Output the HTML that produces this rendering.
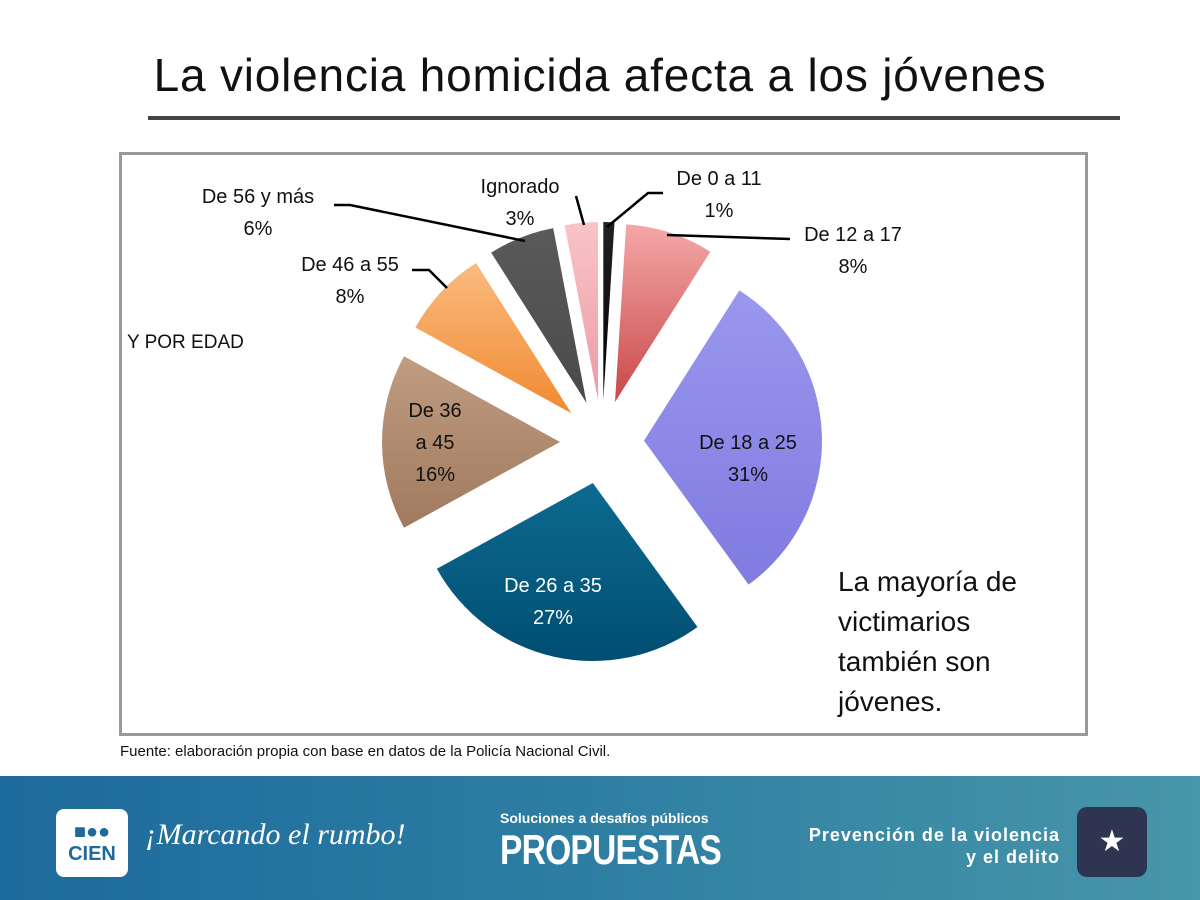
<!DOCTYPE html>
<html><head><meta charset="utf-8"><style>
body{margin:0;width:1200px;height:900px;overflow:hidden;background:#fff;font-family:"Liberation Sans",sans-serif;position:relative}
.t{position:absolute;white-space:nowrap}
</style></head><body>
<div class="t" style="left:0;width:1200px;text-align:center;top:48px;font-size:46px;letter-spacing:0.8px;color:#111">La violencia homicida afecta a los jóvenes</div>
<div style="position:absolute;left:148px;top:116px;width:972px;height:4px;background:#444"></div>
<div style="position:absolute;left:119px;top:152px;width:963px;height:578px;border:3px solid #999"></div>
<svg id="pie" width="1200" height="900" style="position:absolute;left:0;top:0"></svg>
<div class="t" style="left:838px;top:562px;font-size:28px;line-height:40px;color:#111">La mayoría de<br>victimarios<br>también son<br>jóvenes.</div>
<div class="t" style="left:127px;top:332px;font-size:19px;color:#111">Y POR EDAD</div>
<div class="t" style="left:120px;top:743px;font-size:15px;color:#111">Fuente: elaboración propia con base en datos de la Policía Nacional Civil.</div>
<div style="position:absolute;left:0;top:776px;width:1200px;height:124px;background:linear-gradient(90deg,#1d6a9c,#2a7aa2 40%,#4796a9)">
 <div style="position:absolute;left:56px;top:33px;width:72px;height:68px;background:#fff;border-radius:8px;color:#1d6a9c;font-weight:bold;font-size:20px;text-align:center;line-height:22px;padding-top:12px;box-sizing:border-box">■●●<br>CIEN</div>
 <div class="t" style="left:145px;top:42px;font-size:30px;font-style:italic;color:#fff;font-family:'Liberation Serif',serif">¡Marcando el rumbo!</div>
 <div class="t" style="left:500px;top:34px;font-size:14px;font-weight:bold;color:#fff">Soluciones a desafíos públicos</div>
 <div class="t" style="left:500px;top:50px;font-size:42px;font-weight:bold;color:#fff;letter-spacing:-1px;transform:scaleX(0.8);transform-origin:left">PROPUESTAS</div>
 <div class="t" style="right:140px;top:48px;font-size:18px;font-weight:bold;color:#fff;text-align:right;line-height:22px;letter-spacing:1px">Prevención de la violencia<br>y el delito</div>
 <div style="position:absolute;left:1077px;top:31px;width:70px;height:70px;background:#2d3550;border-radius:10px;color:#fff;text-align:center;font-size:30px;line-height:70px">★</div>
</div>
<script>
const categories=["De 0 a 11","De 12 a 17","De 18 a 25","De 26 a 35","De 36 a 45","De 46 a 55","De 56 y más","Ignorado"];
const values=[1,8,31,27,16,8,6,3];
const pctLabels=["1%","8%","31%","27%","16%","8%","6%","3%"];
const colors=[["#222","#000"],["#f4a8a8","#c94848"],["#9a97ee","#7f7be0"],["#0d6a90","#004e72"],["#c09c80","#a07a5e"],["#fbbb80","#f08a30"],["#5a5a5a","#4a4a4a"],["#f8c4c8","#ee9aa4"]];
const svg=document.getElementById('pie');const NS='http://www.w3.org/2000/svg';
const cx=602,cy=442,r=178,ex=42;
const total=values.reduce((a,b)=>a+b,0);
function pt(a,rad,ox,oy){return [ox+rad*Math.sin(a),oy-rad*Math.cos(a)];}
let defs=document.createElementNS(NS,'defs');svg.appendChild(defs);
let acc=0;
values.forEach((v,i)=>{
 const a0=acc/total*2*Math.PI;acc+=v;const a1=acc/total*2*Math.PI;const am=(a0+a1)/2;
 const ox=cx+ex*Math.sin(am),oy=cy-ex*Math.cos(am);
 const g=document.createElementNS(NS,'linearGradient');g.id='g'+i;g.setAttribute('x1','0');g.setAttribute('y1','0');g.setAttribute('x2','0');g.setAttribute('y2','1');
 g.innerHTML=`<stop offset="0" stop-color="${colors[i][0]}"/><stop offset="1" stop-color="${colors[i][1]}"/>`;defs.appendChild(g);
 const p0=pt(a0,r,ox,oy),p1=pt(a1,r,ox,oy);
 const path=document.createElementNS(NS,'path');
 path.setAttribute('d',`M${ox},${oy}L${p0[0]},${p0[1]}A${r},${r} 0 ${a1-a0>Math.PI?1:0} 1 ${p1[0]},${p1[1]}Z`);
 path.setAttribute('fill','url(#g'+i+')');
 
 
 svg.appendChild(path);
});
const labelPos=[[719,178,'o'],[853,234,'o'],[748,442,'i'],[553,585,'i'],[435,410,'i3'],[350,264,'o'],[258,196,'o'],[520,186,'o']];
const leaders=[["M607,227 L648,193 L663,193"],["M667,235 L790,239"],null,null,null,["M447,288 L429,270 L412,270"],["M525,241 L350,205 L334,205"],["M584,225 L576,196"]];
labelPos.forEach((lp,i)=>{
 if(leaders[i]){const l=document.createElementNS(NS,'path');l.setAttribute('d',leaders[i][0]);l.setAttribute('stroke','#000');l.setAttribute('stroke-width','2.5');l.setAttribute('fill','none');
 
 svg.appendChild(l);}
 const lines=lp[2]==='i3'?["De 36","a 45",pctLabels[i]]:[categories[i],pctLabels[i]];
 lines.forEach((s,k)=>{const t=document.createElementNS(NS,'text');t.setAttribute('x',lp[0]);t.setAttribute('y',lp[1]+k*32+7);
 t.setAttribute('text-anchor','middle');t.setAttribute('font-size','20');t.setAttribute('font-family','Liberation Sans, sans-serif');
 t.setAttribute('fill',(i===3)?'#fff':'#111');t.textContent=s;
 
 svg.appendChild(t);});
});
</script>
</body></html>
